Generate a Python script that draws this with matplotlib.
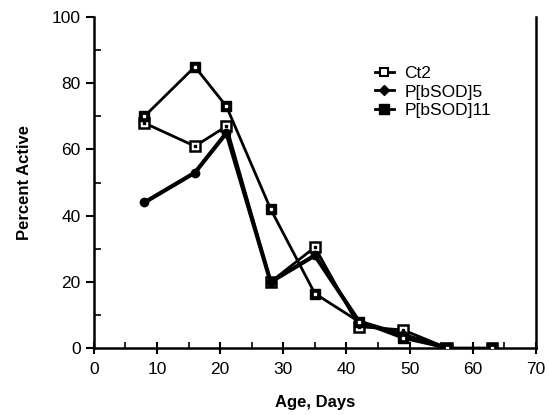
import matplotlib
matplotlib.use('Agg')
import matplotlib.pyplot as plt
from matplotlib.lines import Line2D
from matplotlib.ticker import MultipleLocator

plt.rcParams['font.family'] = ['Liberation Sans', 'DejaVu Sans']

days = [8, 16, 21, 28, 35, 42, 49, 56, 63]
ct2 = [68, 61, 67, 20, 30.5, 6.5, 5.5, 0, 0]
sod5_days = [8, 16, 21, 28, 35, 42, 49, 56]
sod5 = [44, 53, 65, 20, 28, 8, 4, 0]
sod11 = [70, 85, 73, 42, 16.5, 8, 3, 0, 0]

fig = plt.figure(figsize=(5.49, 4.15), dpi=100)
ax = fig.add_axes([0.171, 0.161, 0.805, 0.798])

# Ct2: open square with a dot in the middle
ax.plot(days, ct2, color='black', lw=2.0, marker='s', ms=6.5, mfc='white', mec='black', mew=1.8, zorder=3)
ax.plot(days, ct2, ls='none', marker='s', ms=1.5, color='black', zorder=4)
# P[bSOD]5: filled dot
ax.plot(sod5_days, sod5, color='black', lw=3.0, marker='o', ms=6, mfc='black', mec='black', zorder=3)
# P[bSOD]11: heavy square with small white centre
ax.plot(days, sod11, color='black', lw=2.0, marker='s', ms=7.5, mfc='black', mec='black', zorder=3)
ax.plot(days, sod11, ls='none', marker='s', ms=1.8, color='white', zorder=4)

ax.set_xlim(0, 70)
ax.set_ylim(0, 100)
ax.xaxis.set_major_locator(MultipleLocator(10))
ax.xaxis.set_minor_locator(MultipleLocator(5))
ax.yaxis.set_major_locator(MultipleLocator(20))
ax.yaxis.set_minor_locator(MultipleLocator(10))
ax.tick_params(axis='y', which='major', direction='out', length=6, width=1.5, labelsize=12.5)
ax.tick_params(axis='y', which='minor', direction='in', length=5, width=1.2)
ax.tick_params(axis='x', which='major', direction='inout', length=8, width=1.5, labelsize=12.5, pad=6)
ax.tick_params(axis='x', which='minor', direction='in', length=4, width=1.2)
ax.spines['top'].set_visible(False)
for s in ['left', 'right', 'bottom']:
    ax.spines[s].set_linewidth(1.8)

ax.set_xlabel('Age, Days', fontsize=12, fontweight='bold', labelpad=13)
ax.set_ylabel('Percent Active', fontsize=12, fontweight='bold', labelpad=14)

handles = [
    Line2D([], [], color='black', lw=2, marker='s', ms=6, mfc='white', mec='black', mew=1.5),
    Line2D([], [], color='black', lw=2, marker='D', ms=5, mfc='black'),
    Line2D([], [], color='black', lw=2, marker='s', ms=7, mfc='black'),
]
ax.legend(handles, ['Ct2', 'P[bSOD]5', 'P[bSOD]11'], loc='upper left', bbox_to_anchor=(0.6, 0.9),
          frameon=False, fontsize=12.5, handlelength=1.1, handletextpad=0.6, labelspacing=0.2)

fig.savefig('out.png', dpi=100)
